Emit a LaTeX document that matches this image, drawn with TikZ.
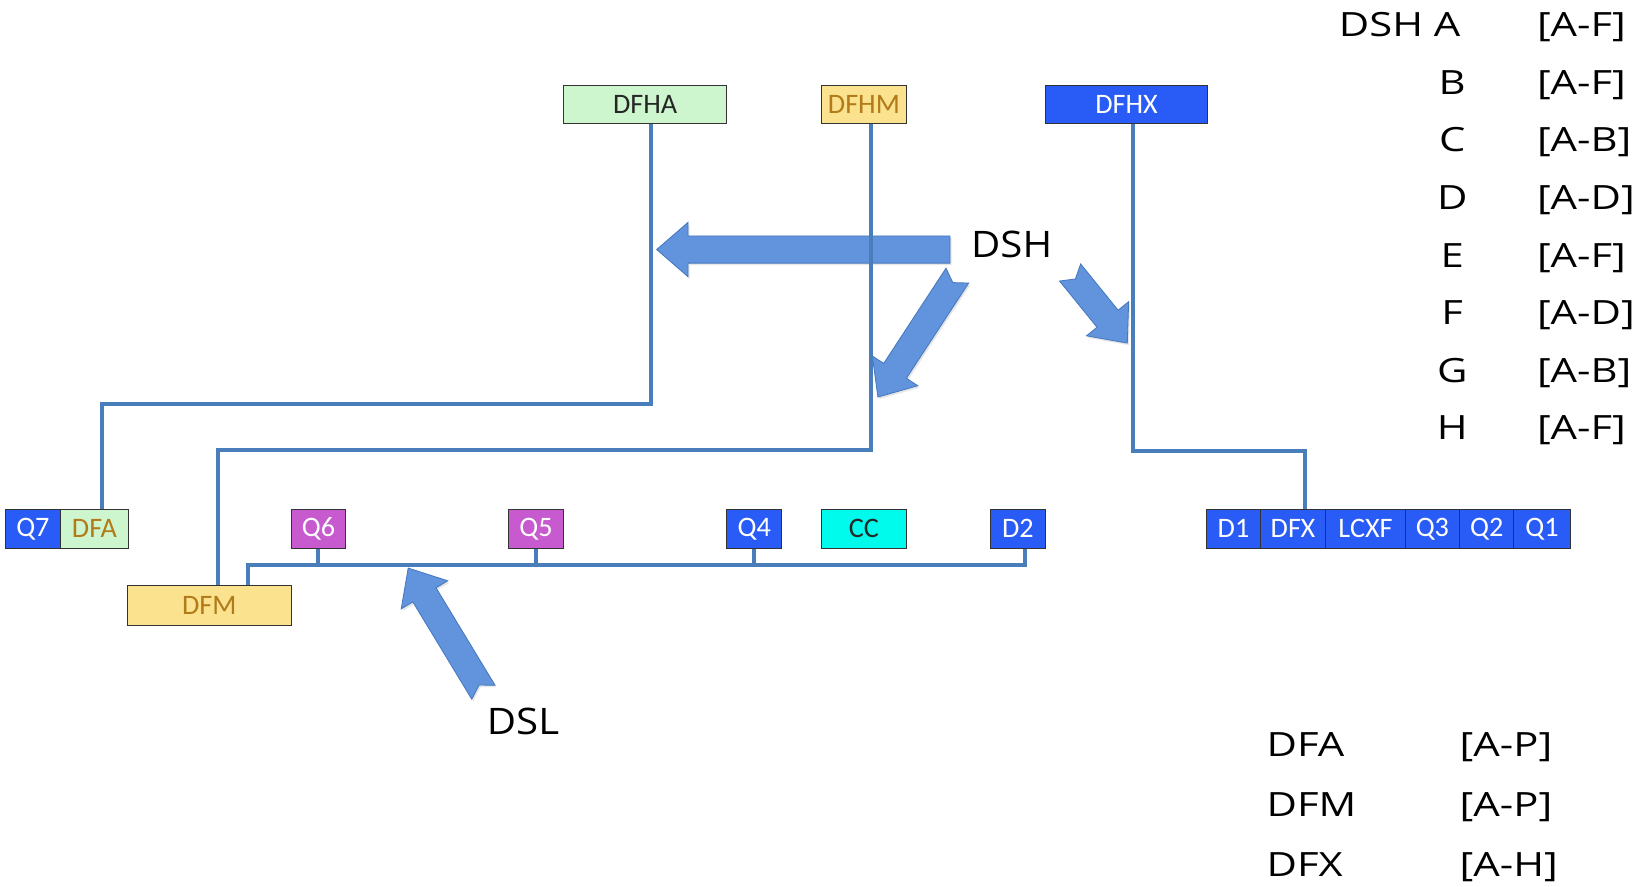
\documentclass[tikz,border=0pt]{standalone}
\usepackage{fontspec}
\setmainfont{Carlito}
\newfontfamily\legendfont[FakeStretch=1.25]{Open Sans}
\newfontfamily\tagfont[FakeStretch=1.1]{Open Sans}
\usepackage{tikz}
\usepackage{xcolor}
\usetikzlibrary{shadows}
\definecolor{boxblue}{RGB}{41,92,246}
\definecolor{boxgreen}{RGB}{206,246,206}
\definecolor{boxyellow}{RGB}{250,226,142}
\definecolor{boxpink}{RGB}{198,90,206}
\definecolor{boxcyan}{RGB}{0,250,236}
\definecolor{boxgold}{RGB}{178,122,24}
\definecolor{busblue}{RGB}{74,126,187}
\definecolor{arrowblue}{RGB}{98,148,221}
\definecolor{arrowedge}{RGB}{70,120,190}
\tikzset{
    cell/.style = {draw=black!80, line width=1pt, rectangle, inner sep=0pt, minimum height=37pt, font=\fontsize{27}{30}\selectfont},
    blue-cell/.style = {cell, fill=boxblue, text=white},
    green-cell/.style = {cell, fill=boxgreen, text=black!85},
    yellow-cell/.style = {cell, fill=boxyellow, text=boxgold},
    pink-cell/.style = {cell, fill=boxpink, text=white},
    cyan-cell/.style = {cell, fill=boxcyan, text=black!85},
    bus/.style = {draw=busblue, line width=3.8pt},
    big-arrow/.style = {fill=arrowblue, draw=arrowedge, line width=0.8pt,
        drop shadow={opacity=0.2, shadow xshift=1.5pt, shadow yshift=-2pt}},
    legend/.style = {inner sep=0pt, font=\legendfont\fontsize{32}{36}\selectfont},
    tag/.style = {inner sep=0pt, font=\tagfont\fontsize{35}{40}\selectfont},
}
% tail, angle, length, notch
\newcommand{\blockarrow}[4]{%
  \begin{scope}[shift={(#1)}, rotate=#2]
    \path[big-arrow] (#4,0) -- (0,13) -- ({#3-30},13) -- ({#3-30},26) -- (#3,0)
      -- ({#3-30},-26) -- ({#3-30},-13) -- (0,-13) -- cycle;
  \end{scope}}

\begin{document}
\begin{tikzpicture}[x=1pt, y=-1pt]
\useasboundingbox (0,0) rectangle (1568,849);

% DSH / DSL arrows
\coordinate (dsh-left) at (910,239);
\coordinate (dsh-down) at (917,264);
\coordinate (dsh-right) at (1025,261);
\coordinate (dsl-up) at (463,663);
\blockarrow{dsh-left}{180}{281}{0}
\blockarrow{dsh-down}{236.8}{139}{8}
\blockarrow{dsh-right}{-51}{87}{8}
\blockarrow{dsl-up}{121.2}{139}{8}
\node[tag] (dsh) at (969,234) {DSH};
\node[tag] (dsl) at (501,691) {DSL};

% heads
\node[green-cell, minimum width=156pt] (dfha) at (618,100) {DFHA};
\node[yellow-cell, minimum width=81pt] (dfhm) at (827.5,100) {DFHM};
\node[blue-cell, minimum width=156pt] (dfhx) at (1079,100) {DFHX};

% left row
\node[blue-cell, minimum width=53pt] (q7) at (31.5,506.5) {Q7};
\node[green-cell, minimum width=65pt, text=boxgold] (dfa) at (90.5,506.5) {DFA};
\node[yellow-cell, minimum width=157pt, minimum height=38pt] (dfm) at (200.5,580) {DFM};
\node[pink-cell, minimum width=52pt] (q6) at (305,506.5) {Q6};
\node[pink-cell, minimum width=53pt] (q5) at (513.5,506.5) {Q5};
\node[blue-cell, minimum width=53pt] (q4) at (722.5,506.5) {Q4};
\node[cyan-cell, minimum width=81pt] (cc) at (827.5,506.5) {CC};
\node[blue-cell, minimum width=52pt] (d2) at (975,506.5) {D2};

% right row
\node[blue-cell, minimum width=51pt] (d1) at (1181.5,506.5) {D1};
\node[blue-cell, minimum width=63pt] (dfx) at (1238.5,506.5) {DFX};
\node[blue-cell, minimum width=76pt] (lcxf) at (1308,506.5) {LCXF};
\node[blue-cell, minimum width=52pt] (q3) at (1372,506.5) {Q3};
\node[blue-cell, minimum width=52pt] (q2) at (1424,506.5) {Q2};
\node[blue-cell, minimum width=54pt] (q1) at (1477,506.5) {Q1};

% links
\coordinate (ha) at (624,387); \coordinate (hb) at (98,387);
\draw[bus] (ha |- dfha.south) -- (ha) -- (hb) -- (hb |- dfa.north);
\coordinate (ma) at (834,431); \coordinate (mb) at (209,431);
\draw[bus] (ma |- dfhm.south) -- (ma) -- (mb) -- (mb |- dfm.north);
\coordinate (xa) at (1085,432); \coordinate (xb) at (1250,432);
\draw[bus] (xa |- dfhx.south) -- (xa) -- (xb) -- (xb |- dfx.north);
\coordinate (la) at (238,541); \coordinate (lb) at (982,541);
\draw[bus] (la |- dfm.north) -- (la) -- (lb) -- (lb |- d2.south);
\foreach \q in {q6,q5,q4}
  \draw[bus] (\q.south) -- (\q.south |- la);

% legends
\node[legend, anchor=base east] (dsh-a) at (1399,35) {DSH A};
\node[legend, anchor=base west] (rng-a) at (1472,35) {[A-F]};
\foreach \ltr/\rng [count=\i] in {B/A-F, C/A-B, D/A-D, E/A-F, F/A-D, G/A-B, H/A-F} {
  \node[legend, anchor=base] (dsh-\ltr) at (1391,{35+55.2*\i}) {\ltr};
  \node[legend, anchor=base west] (rng-\ltr) at (1472,{35+55.2*\i}) {[\rng]};
}
\foreach \nm/\rng [count=\i from 0] in {DFA/A-P, DFM/A-P, DFX/A-H} {
  \node[legend, anchor=base west] (leg-\nm) at (1213,{725+57.5*\i}) {\nm};
  \node[legend, anchor=base west] (leg-rng-\nm) at (1398,{725+57.5*\i}) {[\rng]};
}
\end{tikzpicture}
\end{document}
